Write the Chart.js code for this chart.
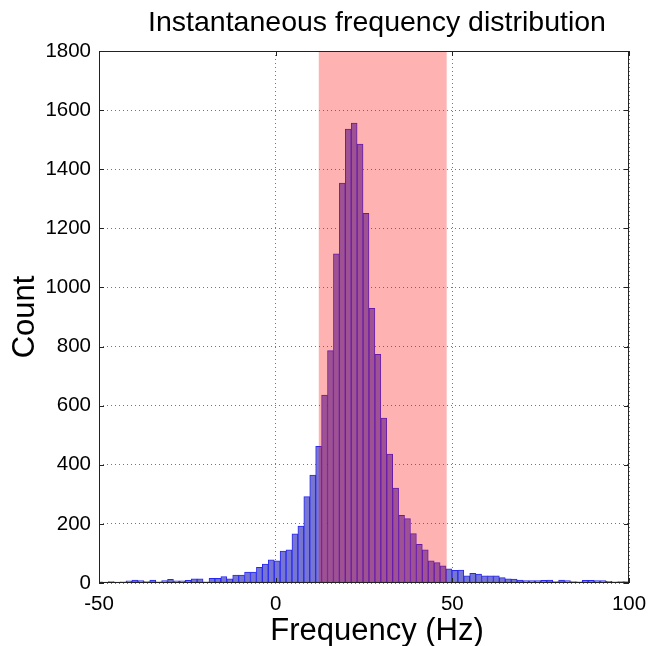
<!DOCTYPE html>
<html>
<head>
<meta charset="utf-8">
<title>Instantaneous frequency distribution</title>
<script src="https://cdn.jsdelivr.net/npm/chart.js@4.4.1/dist/chart.umd.min.js"></script>
<style>
  html, body { margin: 0; padding: 0; background: #fff; }
  #wrap { width: 660px; height: 646px; }
</style>
</head>
<body>
<div id="wrap"><canvas id="freq-hist"></canvas></div>
<script>
/* histogram bins */
const binStart = -50.73;   // left edge of the first bin (Hz)
const binWidth = 1.677;    // Hz
const counts = [
    4, 3, 5, 3, 4, 7, 10, 8, 5, 10,
    4, 8, 12, 7, 7, 9, 14, 14, 4, 16,
    16, 22, 14, 27, 27, 37, 37, 53, 64, 78,
    75, 108, 112, 166, 193, 292, 365, 462, 636, 786,
    1114, 1353, 1536, 1556, 1485, 1251, 929, 774, 558, 436,
    321, 229, 218, 167, 131, 112, 75, 69, 58, 48,
    43, 44, 24, 33, 30, 24, 24, 24, 18, 14,
    13, 10, 8, 8, 8, 9, 10, 5, 10, 8,
    5, 4, 9, 9, 8, 8, 6, 4, 5, 5
];
const xTicks = [-50, 0, 50, 100];
const yTicks = [0, 200, 400, 600, 800, 1000, 1200, 1400, 1600, 1800];
const bandRange = [12.2, 48.4];   // shaded band (Hz)

const titleText = 'Instantaneous frequency distribution';
const xLabel = 'Frequency (Hz)';
const yLabel = 'Count';

const FONT = '"Liberation Sans", Arial, Helvetica, sans-serif';

const binCenters = counts.map((c, i) => binStart + binWidth * (i + 0.5));

/* shaded band over the bars + box and inward ticks */
const bandPlugin = {
    id: 'band',
    afterDatasetsDraw(chart) {
        const {ctx, chartArea: a, scales: {x, y}} = chart;
        ctx.save();
        ctx.beginPath();
        ctx.rect(a.left, a.top, a.right - a.left, a.bottom - a.top);
        ctx.clip();
        const x0 = x.getPixelForValue(bandRange[0]);
        const x1 = x.getPixelForValue(bandRange[1]);
        ctx.fillStyle = 'rgba(255, 0, 0, 0.3)';
        ctx.fillRect(x0, a.top, x1 - x0, a.bottom - a.top);
        ctx.restore();

        ctx.save();
        ctx.strokeStyle = '#222';
        ctx.lineWidth = 1;
        ctx.strokeRect(Math.round(a.left) + 0.5, Math.round(a.top) + 0.5,
            Math.round(a.right - a.left) - 1, Math.round(a.bottom - a.top) - 1);
        ctx.beginPath();
        for (const v of yTicks) {
            const py = Math.round(y.getPixelForValue(v)) + 0.5;
            ctx.moveTo(a.left, py); ctx.lineTo(a.left + 5, py);
            ctx.moveTo(a.right, py); ctx.lineTo(a.right - 5, py);
        }
        for (const v of xTicks) {
            const px = Math.round(x.getPixelForValue(v)) + 0.5;
            ctx.moveTo(px, a.bottom); ctx.lineTo(px, a.bottom - 5);
            ctx.moveTo(px, a.top); ctx.lineTo(px, a.top + 5);
        }
        ctx.stroke();
        ctx.restore();
    }
};

/* title and x label, set a little right of the axes centre like the original */
const labelPlugin = {
    id: 'labels',
    afterDraw(chart) {
        const {ctx, chartArea: a} = chart;
        const cx = (a.left + a.right) / 2 + 13;
        ctx.save();
        ctx.fillStyle = '#000';
        ctx.textAlign = 'center';
        ctx.textBaseline = 'middle';
        ctx.font = '28.5px ' + FONT;
        ctx.fillText(titleText, cx, 23);
        ctx.font = '31px ' + FONT;
        ctx.fillText(xLabel, cx, 631);
        ctx.restore();
    }
};

const ctx = document.getElementById('freq-hist');
const chart = new Chart(ctx, {
    type: 'bar',
    data: {
        datasets: [{
            label: yLabel,
            data: binCenters.map((b, i) => ({x: b, y: counts[i]})),
            backgroundColor: 'rgb(118, 118, 208)',
            borderColor: 'rgb(40, 40, 245)',
            borderWidth: 1,
            borderSkipped: false,
            barPercentage: 1,
            categoryPercentage: 1
        }]
    },
    options: {
        responsive: true,
        maintainAspectRatio: false,
        animation: false,
        layout: {padding: {left: 0, right: 31, top: 51, bottom: 0}},
        plugins: {
            legend: {display: false},
            tooltip: {enabled: false},
            title: {display: false}
        },
        scales: {
            x: {
                type: 'linear',
                min: -50,
                max: 100,
                offset: false,
                afterFit: (s) => { s.height = 63; },
                afterBuildTicks: (s) => { s.ticks = xTicks.map(v => ({value: v})); },
                ticks: {
                    color: '#000',
                    padding: 9,
                    maxRotation: 0,
                    font: {family: FONT, size: 20.5},
                    callback: (v) => String(v)
                },
                grid: {
                    offset: false,
                    drawTicks: false,
                    color: '#777',
                    lineWidth: 1
                },
                border: {display: false, dash: [1, 3]},
                title: {display: false}
            },
            y: {
                min: 0,
                max: 1800,
                afterFit: (s) => { s.width = 99; },
                afterBuildTicks: (s) => { s.ticks = yTicks.map(v => ({value: v})); },
                ticks: {
                    color: '#000',
                    padding: 8,
                    font: {family: FONT, size: 20.5},
                    callback: (v) => String(v)
                },
                grid: {
                    drawTicks: false,
                    color: '#777',
                    lineWidth: 1
                },
                border: {display: false, dash: [1, 3]},
                title: {
                    display: true,
                    text: yLabel,
                    color: '#000',
                    font: {family: FONT, size: 31, lineHeight: 1},
                    padding: {top: 10, bottom: 0}
                }
            }
        }
    },
    plugins: [bandPlugin, labelPlugin]
});
</script>
</body>
</html>
